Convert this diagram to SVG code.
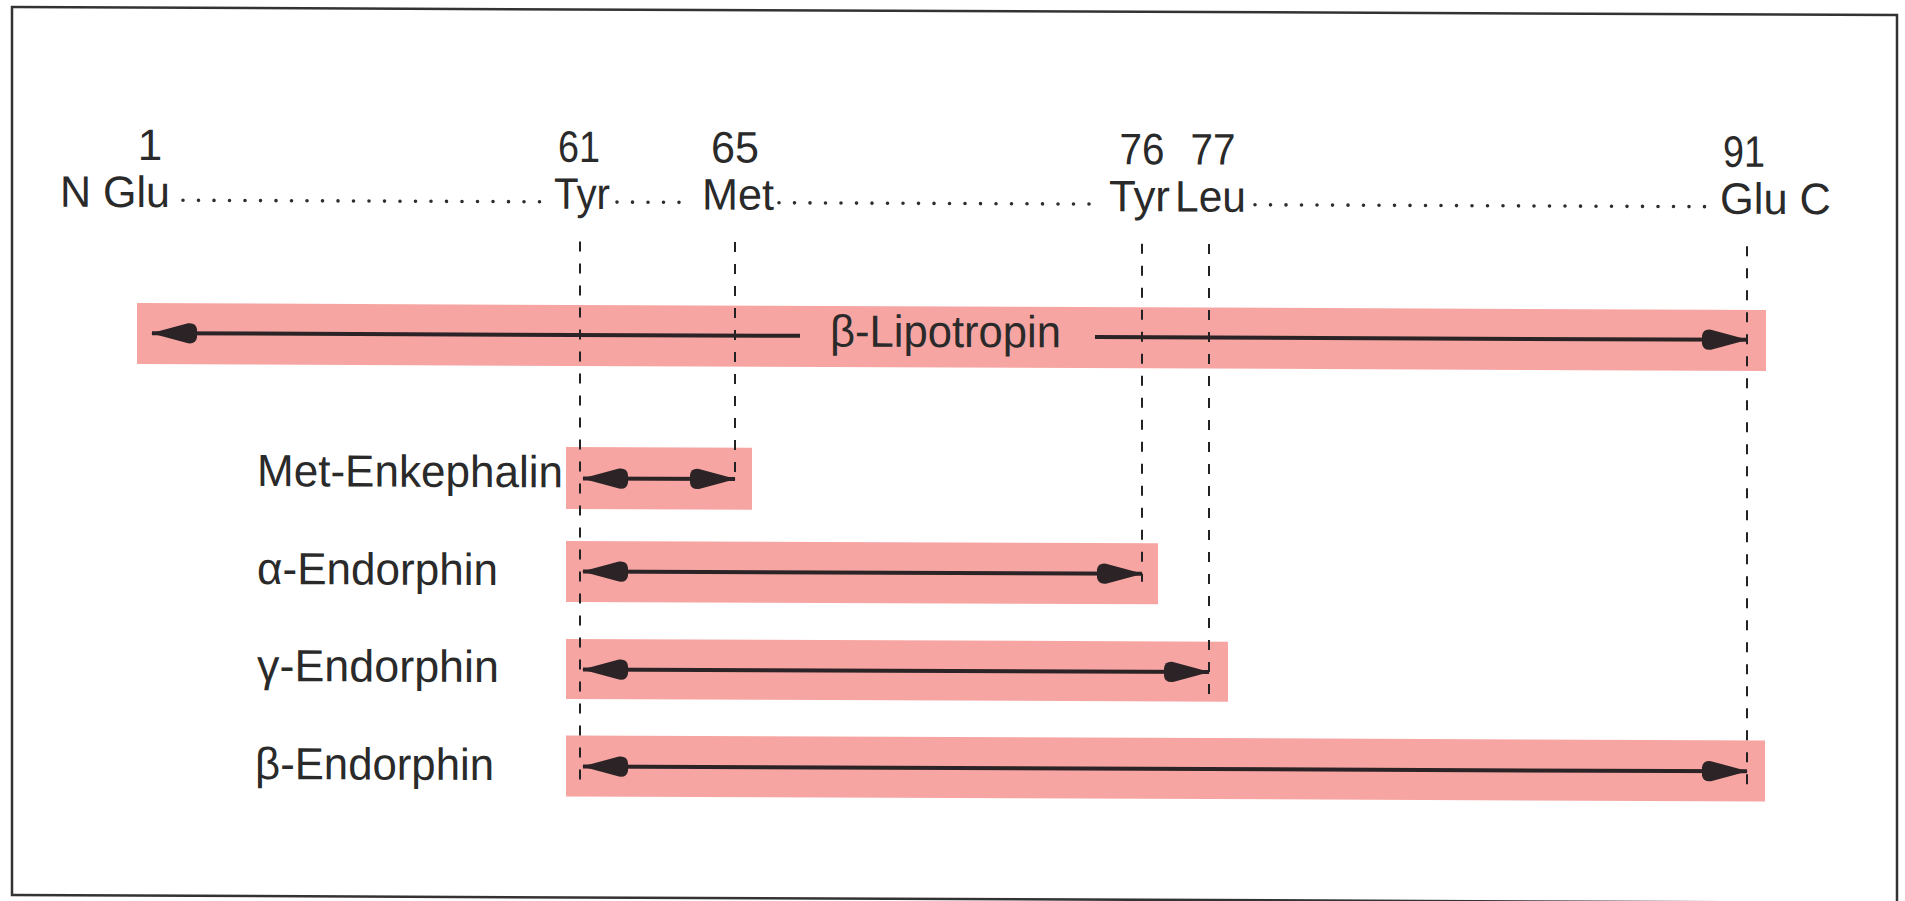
<svg xmlns="http://www.w3.org/2000/svg" width="1905" height="901" viewBox="0 0 1905 901">
<defs>
<style>
.t{font-family:"Liberation Sans",Arial,sans-serif;font-size:44px;fill:#2a2a2a}
.m{text-anchor:middle}
.l{font-family:"Liberation Sans",Arial,sans-serif;font-size:45px;fill:#2a2a2a}
.bar{fill:#f6a5a2}
.dot{stroke:#2e2e2e;stroke-width:3.6;stroke-linecap:round;stroke-dasharray:0 15.5;fill:none}
.dash{stroke:#222;stroke-width:2;stroke-dasharray:10 12;fill:none}
.arr{stroke:#2b2326;stroke-width:4;fill:none;marker-end:url(#ah)}
.both{marker-start:url(#ah)}
</style>
<marker id="ah" markerUnits="userSpaceOnUse" markerWidth="50" markerHeight="26" viewBox="-46 -13 50 26" refX="0" refY="0" orient="auto-start-reverse" overflow="visible">
<path d="M1,0 L-36,-10 Q-44,-11 -45,-4 L-45,4 Q-44,11 -36,10 Z" fill="#2b2326"/>
</marker>
</defs>
<rect width="1905" height="901" fill="#fff"/>
<g transform="matrix(1 0.0042 0 1 0 -4)">
<rect id="frame" x="12" y="11" width="1885" height="888" fill="none" stroke="#333" stroke-width="2.5"/>

<g id="sequence">
<text class="t m" x="150" y="163.5">1</text>
<text class="t" x="60" y="210.5" textLength="110" lengthAdjust="spacingAndGlyphs">N Glu</text>
<text class="t m" x="579" y="163.5" textLength="42" lengthAdjust="spacingAndGlyphs">61</text>
<text class="t" x="554" y="210.5" textLength="56" lengthAdjust="spacingAndGlyphs">Tyr</text>
<text class="t m" x="735" y="163.5" textLength="48" lengthAdjust="spacingAndGlyphs">65</text>
<text class="t" x="702" y="210.5" textLength="72" lengthAdjust="spacingAndGlyphs">Met</text>
<text class="t m" x="1142" y="163.5" textLength="45" lengthAdjust="spacingAndGlyphs">76</text>
<text class="t" x="1109" y="210.5" textLength="61" lengthAdjust="spacingAndGlyphs">Tyr</text>
<text class="t m" x="1213" y="163.5" textLength="45" lengthAdjust="spacingAndGlyphs">77</text>
<text class="t" x="1175" y="210.5" textLength="71" lengthAdjust="spacingAndGlyphs">Leu</text>
<text class="t m" x="1744" y="163.5" textLength="42" lengthAdjust="spacingAndGlyphs">91</text>
<text class="t" x="1720" y="210.5" textLength="111" lengthAdjust="spacingAndGlyphs">Glu C</text>
<path class="dot" d="M183 203.5H546M617 203.5H694M779 203.5H1104M1255 203.5H1712"/>
</g>

<g id="lipotropin"><rect class="bar" x="137" y="306.5" width="1629" height="61"/></g>
<g id="met-enkephalin"><rect class="bar" x="566" y="448.5" width="186" height="62"/><text class="l" x="257" y="489" textLength="306" lengthAdjust="spacingAndGlyphs">Met-Enkephalin</text></g>
<g id="alpha-endorphin"><rect class="bar" x="566" y="542.5" width="592" height="61"/><text class="l" x="257" y="587" textLength="241" lengthAdjust="spacingAndGlyphs">α-Endorphin</text></g>
<g id="gamma-endorphin"><rect class="bar" x="566" y="640.5" width="662" height="60"/><text class="l" x="257" y="684" textLength="242" lengthAdjust="spacingAndGlyphs">γ-Endorphin</text></g>
<g id="beta-endorphin"><rect class="bar" x="566" y="737" width="1199" height="61"/><text class="l" x="255" y="782" textLength="239" lengthAdjust="spacingAndGlyphs">β-Endorphin</text></g>

<g id="connectors">
<path class="dash" d="M580 243V791"/>
<path class="dash" d="M735 243V482"/>
<path class="dash" d="M1142 243V581"/>
<path class="dash" d="M1209 243V694"/>
<path class="dash" d="M1747 243V787"/>
<path class="arr" d="M800 336.5H152"/>
<path class="arr" d="M1095 336.5H1747"/>
<path class="arr both" d="M583 480H735"/>
<path class="arr both" d="M583 573H1142"/>
<path class="arr both" d="M583 671H1209"/>
<path class="arr both" d="M583 768H1747"/>
</g>
<text class="l" x="830" y="347" textLength="231" lengthAdjust="spacingAndGlyphs">β-Lipotropin</text>
</g>
</svg>
